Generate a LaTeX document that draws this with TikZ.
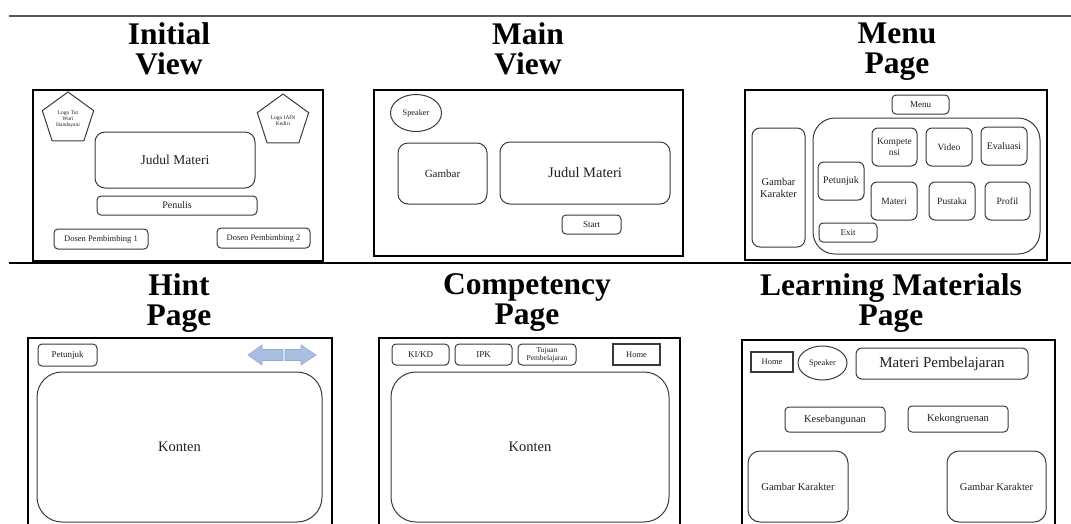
\documentclass[tikz,border=0pt]{standalone}
\usepackage{fontspec}
\setmainfont{Liberation Serif}
\newfontfamily\titlefont{Liberation Serif}
\usepackage{xcolor}
\usetikzlibrary{shapes.geometric}
\definecolor{ink}{HTML}{1E1E1E}
\definecolor{framegray}{HTML}{3A3A3A}
\definecolor{rulegray}{HTML}{585858}
\definecolor{arrowblue}{HTML}{A9BFE0}
\definecolor{arrowedge}{HTML}{8FAAD6}
\newcommand{\fsz}[2]{\fontsize{#1}{#2}\selectfont}

\begin{document}
\begin{tikzpicture}[x=1pt, y=-1pt, text=ink,
  title/.style={font=\titlefont\bfseries\fsz{31.5}{30}, align=center, text=black, text depth=7pt, inner sep=0pt},
  panel/.style={draw=black, line width=1.3pt, inner sep=0pt},
  btn/.style={draw=framegray, line width=1pt, rounded corners=4pt, inner sep=0pt, align=center},
  sqbtn/.style={btn, rounded corners=0pt, line width=1.3pt},
  sz/.style 2 args={minimum width=#1pt, minimum height=#2pt},
  logo/.style={draw=framegray, line width=1pt, regular polygon, regular polygon sides=5,
    minimum size=54pt, inner sep=0pt, align=center, font=\fsz{5.5}{6}}]
\useasboundingbox (0,0) rectangle (1071,523);
\clip (0,0) rectangle (1071,523);
% —— rules ——
\draw[line width=2.2pt, rulegray] (9,16) -- (1071,16);
\draw[line width=1.2pt, black] (9,263) -- (1071,263);
% —— titles ——
\node[title] (tInitial) at (169,52) {Initial\\View};
\node[title] (tMain) at (528,52) {Main\\View};
\node[title] (tMenu) at (897,52) {Menu\\Page};
\node[title] (tHint) at (179,303) {Hint\\Page};
\node[title] (tKomp) at (527,303) {Competency\\Page};
\node[title] (tMateri) at (891,303) {Learning Materials\\Page};

% —— Initial View ——
\node[panel, sz={290}{171}] (initial) at (178,175.5) {};
\node[logo] (logoTut) at (68,119) {Logo Tut\\Wuri\\Handayani};
\node[logo] (logoIain) at (283,121) {Logo IAIN\\Kediri};
\node[btn, rounded corners=10pt, sz={160}{56}, font=\fsz{13.5}{15}] (judulA) at (175,160) {Judul Materi};
\node[btn, sz={160}{19}, font=\fsz{10}{11}] (penulis) at (177,205.5) {Penulis};
\node[btn, sz={94}{20}, font=\fsz{8.5}{9}] (dosenA) at (101,239) {Dosen Pembimbing 1};
\node[btn, sz={93}{20}, font=\fsz{8.5}{9}] (dosenB) at (263.5,238) {Dosen Pembimbing 2};

% —— Main View ——
\node[panel, sz={309}{166}] (main) at (528.5,173) {};
\node[draw=framegray, line width=1pt, ellipse, sz={51}{37}, inner sep=0pt, font=\fsz{8.3}{9}] (speakerA) at (416,113) {Speaker};
\node[btn, rounded corners=10pt, sz={89}{61}, font=\fsz{11}{12}] (gambar) at (442.5,173.5) {Gambar};
\node[btn, rounded corners=10pt, sz={170}{62}, font=\fsz{14.5}{16}] (judulB) at (585,173) {Judul Materi};
\node[btn, sz={59}{19}, font=\fsz{9}{10}] (start) at (591.5,224.5) {Start};

% —— Menu Page ——
\node[panel, sz={302}{170}] (menuPage) at (896,175) {};
\node[btn, sz={57}{19}, font=\fsz{9}{10}] (menu) at (920.5,104.5) {Menu};
\node[btn, rounded corners=8pt, sz={53}{119}, font=\fsz{10.5}{12}] (karakterA) at (778.5,187.5) {Gambar\\Karakter};
\node[btn, rounded corners=22pt, sz={227}{136}] (wadah) at (926.5,186) {};
\node[btn, rounded corners=6pt, sz={45}{38}, font=\fsz{9.5}{10.5}] (kompetensi) at (894.5,147) {Kompete\\nsi};
\node[btn, rounded corners=6pt, sz={46}{38}, font=\fsz{9.5}{10.5}] (video) at (949,147) {Video};
\node[btn, rounded corners=6pt, sz={46}{38}, font=\fsz{10}{11}] (evaluasi) at (1004,146) {Evaluasi};
\node[btn, rounded corners=6pt, sz={46}{38}, font=\fsz{10}{11}] (petunjukA) at (841,181) {Petunjuk};
\node[btn, rounded corners=6pt, sz={46}{38}, font=\fsz{9.5}{10.5}] (materi) at (894,201) {Materi};
\node[btn, rounded corners=6pt, sz={46}{38}, font=\fsz{9.5}{10.5}] (pustaka) at (952,201) {Pustaka};
\node[btn, rounded corners=6pt, sz={45}{38}, font=\fsz{9.5}{10.5}] (profil) at (1007.5,201) {Profil};
\node[btn, sz={58}{19}, font=\fsz{9}{10}] (exit) at (848,232.5) {Exit};

% —— Hint Page ——
\node[panel, sz={304}{200}] (hint) at (180,438) {};
\node[btn, sz={59}{22}, font=\fsz{9}{10}] (petunjukB) at (67.5,355) {Petunjuk};
\filldraw[fill=arrowblue, draw=arrowedge, line width=0.6pt] (248,355) -- (262,345) -- (262,349.5) -- (283,349.5) -- (283,360.5) -- (262,360.5) -- (262,365) -- cycle;
\filldraw[fill=arrowblue, draw=arrowedge, line width=0.6pt] (316,355) -- (301,345) -- (301,349.5) -- (285,349.5) -- (285,360.5) -- (301,360.5) -- (301,365) -- cycle;
\node[btn, rounded corners=25pt, sz={285}{150}, font=\fsz{14.5}{16}] (kontenA) at (179.5,447) {Konten};

% —— Competency Page ——
\node[panel, sz={301}{200}] (kompPage) at (529.5,438) {};
\node[btn, sz={57}{21}, font=\fsz{9}{10}] (kikd) at (420.5,354.5) {KI/KD};
\node[btn, sz={57}{21}, font=\fsz{9}{10}] (ipk) at (483.5,354.5) {IPK};
\node[btn, sz={58}{21}, font=\fsz{7.5}{8}] (tujuan) at (547,354.5) {Tujuan\\Pembelajaran};
\node[sqbtn, sz={47}{21}, font=\fsz{8.5}{9}] (homeA) at (636.5,354.5) {Home};
\node[btn, rounded corners=25pt, sz={278}{150}, font=\fsz{14.5}{16}] (kontenB) at (530,447) {Konten};

% —— Learning Materials Page ——
\node[panel, sz={313}{200}] (materiPage) at (898.5,440) {};
\node[sqbtn, sz={42}{20}, font=\fsz{8.5}{9}] (homeB) at (772,362) {Home};
\node[draw=framegray, line width=1pt, ellipse, sz={49}{34}, inner sep=0pt, font=\fsz{8.3}{9}] (speakerB) at (822.5,363) {Speaker};
\node[btn, rounded corners=6pt, sz={172}{31}, font=\fsz{15}{16}] (pembelajaran) at (942,363.5) {Materi Pembelajaran};
\node[btn, sz={100}{25}, font=\fsz{10.5}{11}] (sebangun) at (835,419.5) {Kesebangunan};
\node[btn, sz={100}{26}, font=\fsz{10.5}{11}] (kongruen) at (958,419) {Kekongruenan};
\node[btn, rounded corners=12pt, sz={100}{71}, font=\fsz{10.5}{11}] (karakterB) at (798,486.5) {Gambar Karakter};
\node[btn, rounded corners=12pt, sz={99}{71}, font=\fsz{10.5}{11}] (karakterC) at (996.5,486.5) {Gambar Karakter};
\end{tikzpicture}
\end{document}
